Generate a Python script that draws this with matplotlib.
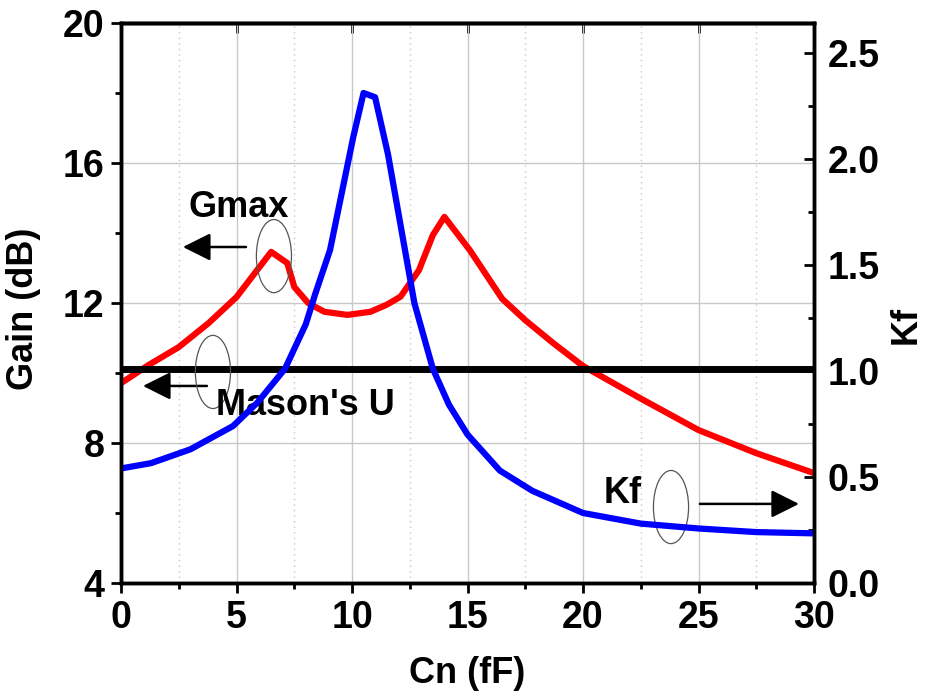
import matplotlib.pyplot as plt
from matplotlib.patches import Ellipse
from matplotlib.ticker import MultipleLocator

plt.rcParams['font.family'] = ['Liberation Sans', 'DejaVu Sans']
plt.rcParams['font.weight'] = 'bold'
plt.rcParams['axes.labelweight'] = 'bold'

# Gmax (dB), left axis
cn_gmax = [0, 1.2, 2.5, 3.8, 5.0, 5.8, 6.5, 7.2, 7.5, 8.1, 8.8, 9.8, 10.8, 11.5,
           12.1, 12.9, 13.5, 14.0, 15.1, 16.5, 17.5, 18.7, 20.0, 22.5, 25.0, 27.5, 30.0]
gmax = [9.71, 10.23, 10.74, 11.43, 12.17, 12.86, 13.46, 13.14, 12.46, 12.0, 11.75,
        11.66, 11.75, 11.95, 12.18, 12.94, 13.94, 14.46, 13.51, 12.12, 11.51, 10.86,
        10.2, 9.27, 8.37, 7.71, 7.14]

# Mason's U (dB), left axis
cn_u = [0, 30]
mason_u = [10.12, 10.12]

# Kf, right axis
cn_kf = [0, 1.3, 3.0, 4.85, 5.9, 7.1, 8.0, 8.4, 9.05, 10.05, 10.5, 11.0, 11.56,
         12.7, 13.5, 14.2, 15.0, 16.4, 17.8, 20.0, 22.5, 25.0, 27.5, 30.0]
kf = [0.54, 0.565, 0.63, 0.74, 0.85, 1.01, 1.22, 1.36, 1.57, 2.1, 2.31, 2.29, 2.02,
      1.32, 1.01, 0.84, 0.70, 0.53, 0.435, 0.33, 0.28, 0.257, 0.24, 0.234]

fig = plt.figure(figsize=(9.25, 7), dpi=100)
ax = fig.add_axes([121 / 925, 1 - 583 / 700, 693 / 925, 560 / 700])
ax2 = ax.twinx()

ax.set_axisbelow(True)
ax.grid(which='major', color='#c8c8c8', lw=1)
ax.grid(which='minor', axis='x', color='#c8c8c8', lw=1, ls=(0, (1, 3)))

ax.plot(cn_gmax, gmax, color='#ff0000', lw=4.5, zorder=3)
ax.plot(cn_u, mason_u, color='black', lw=5, zorder=3)
ax2.plot(cn_kf, kf, color='#0000ff', lw=4.5)

ax.set_xlim(0, 30)
ax.set_ylim(4, 20)
ax2.set_ylim(0, 2.64)

ax.xaxis.set_major_locator(MultipleLocator(5))
ax.xaxis.set_minor_locator(MultipleLocator(2.5))
ax.yaxis.set_major_locator(MultipleLocator(4))
ax.yaxis.set_minor_locator(MultipleLocator(2))
ax2.yaxis.set_major_locator(MultipleLocator(0.5))
ax2.yaxis.set_minor_locator(MultipleLocator(0.25))
ax2.yaxis.set_major_formatter(lambda v, p: f'{v:.1f}')

ax.tick_params(axis='both', which='major', direction='out', length=7, width=2,
               labelsize=27, pad=5)
ax.tick_params(axis='both', which='minor', direction='out', length=4, width=2)
ax.tick_params(axis='y', right=False, which='both')
ax2.tick_params(axis='y', which='major', direction='in', length=7, width=2,
                labelsize=27, pad=10)
ax2.tick_params(axis='y', which='minor', direction='in', length=4, width=2)

top = ax.secondary_xaxis('top')
top.set_xticks([0, 5, 10, 15, 20, 25, 30])
top.tick_params(direction='in', length=7, width=2, labeltop=False)
top.xaxis.set_minor_locator(plt.NullLocator())

for a in (ax, ax2):
    for s in a.spines.values():
        s.set_linewidth(2.5)
top.spines['top'].set_linewidth(2.5)

ax.set_xlabel('Cn (fF)', fontsize=26)
ax.xaxis.set_label_coords(0.5, -0.13)
ax.set_ylabel('Gain (dB)', fontsize=26)
ax.yaxis.set_label_coords(-0.115, 0.49)
ax2.set_ylabel('Kf', fontsize=26, va='baseline')
ax2.yaxis.set_label_coords(1.147, 0.46)

# annotations
arrow = dict(arrowstyle='-|>,head_length=1.0,head_width=0.5', lw=1.8, color='black',
             mutation_scale=17, shrinkA=0, shrinkB=0)
ax.annotate('', xy=(2.68, 13.6), xytext=(5.41, 13.6), arrowprops=arrow)
ax.annotate('', xy=(0.95, 9.63), xytext=(3.72, 9.63), arrowprops=arrow)
ax.annotate('', xy=(29.35, 6.26), xytext=(25.06, 6.26), arrowprops=arrow)

for cx, cy in [(6.62, 13.34), (3.98, 10.03), (23.81, 6.17)]:
    ax.add_patch(Ellipse((cx, cy), 1.52, 2.09, fill=False, ec='#555555', lw=0.9,
                         zorder=4))

ax.text(5.1, 14.46, 'Gmax', fontsize=26, ha='center', va='baseline')
ax.text(8.0, 8.8, "Mason's U", fontsize=26, ha='center', va='baseline', zorder=5)
ax.text(21.7, 6.29, 'Kf', fontsize=26, ha='center', va='baseline')

fig.savefig('out.png', dpi=100)
